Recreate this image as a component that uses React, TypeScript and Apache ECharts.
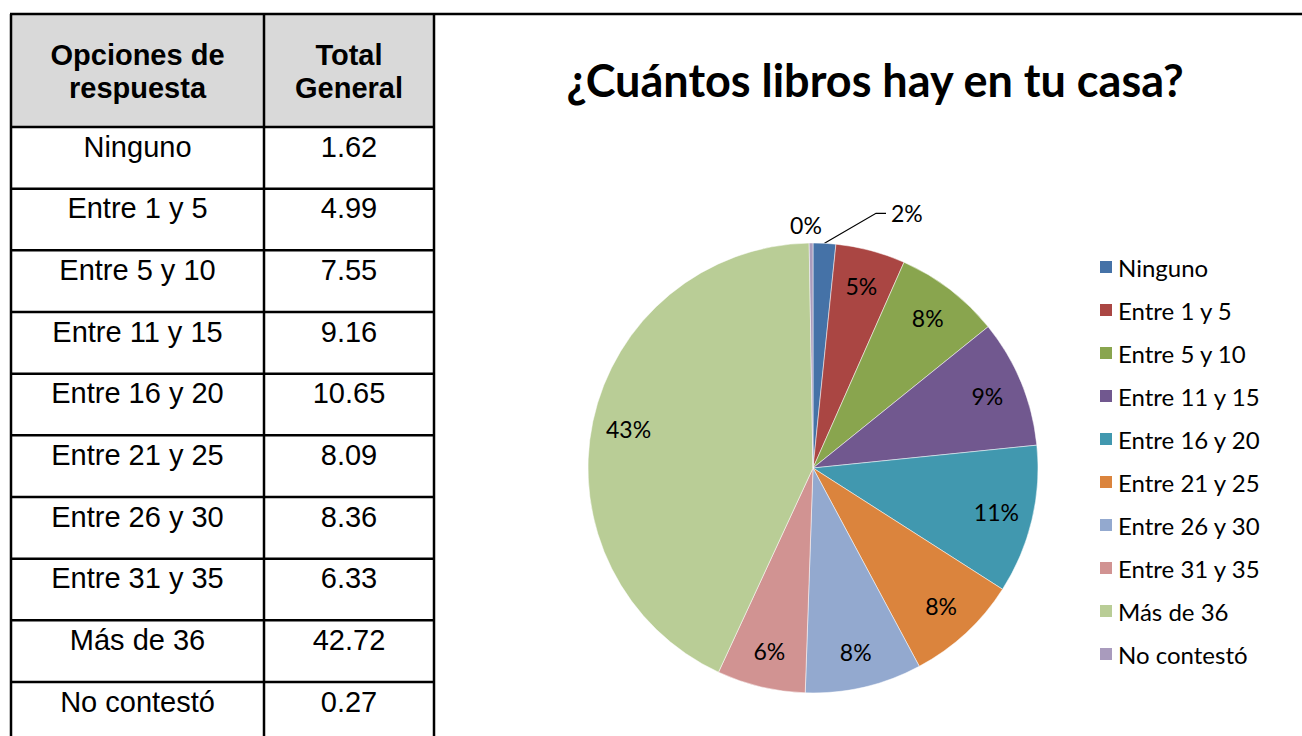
import React, { useEffect, useRef } from "react";
import * as echarts from "echarts";

const categories = [
  "Ninguno",
  "Entre 1 y 5",
  "Entre 5 y 10",
  "Entre 11 y 15",
  "Entre 16 y 20",
  "Entre 21 y 25",
  "Entre 26 y 30",
  "Entre 31 y 35",
  "Más de 36",
  "No contestó",
];
const totals = [1.62, 4.99, 7.55, 9.16, 10.65, 8.09, 8.36, 6.33, 42.72, 0.27];
const headerLabels = ["Opciones de\nrespuesta", "Total\nGeneral"];
const chartTitle = "¿Cuántos libros hay en tu casa?";
const colors = [
  "#4572A7",
  "#AA4643",
  "#89A54E",
  "#71588F",
  "#4198AF",
  "#DB843D",
  "#93A9CF",
  "#D19392",
  "#B9CD96",
  "#A99BBD",
];

const CHART_FONT = "Lato";
const TABLE_FONT = '"Liberation Sans", Arial, sans-serif';

function buildTable() {
  const left = 11;
  const mid = 264;
  const right = 434;
  const top = 14;
  const headerBottom = 127;
  const rowH = 61.67;
  const bottom = 740;
  const els: any[] = [];
  els.push({
    type: "rect",
    shape: { x: left, y: top, width: right - left, height: headerBottom - top },
    style: { fill: "#d9d9d9" },
  });
  const line = (x1: number, y1: number, x2: number, y2: number) => ({
    type: "line",
    shape: { x1, y1, x2, y2 },
    style: { stroke: "#000", lineWidth: 2.5 },
  });
  els.push(line(left - 1, top, 1302, top));
  els.push(line(left, top, left, bottom));
  els.push(line(mid, top, mid, bottom));
  els.push(line(right, top, right, bottom));
  els.push(line(left, headerBottom, right, headerBottom));
  categories.forEach((_, i) => {
    const y = headerBottom + rowH * (i + 1);
    if (y < 736) els.push(line(left, y, right, y));
  });
  [(left + mid) / 2, (mid + right) / 2].forEach((cx, j) => {
    els.push({
      type: "text",
      x: cx,
      y: 71,
      style: {
        text: headerLabels[j],
        font: `bold 29px ${TABLE_FONT}`,
        lineHeight: 33,
        textAlign: "center",
        textVerticalAlign: "middle",
        fill: "#000",
      },
    });
  });
  categories.forEach((name, i) => {
    const cy = headerBottom + rowH * i + 19.5;
    els.push({
      type: "text",
      x: (left + mid) / 2,
      y: cy,
      style: {
        text: name,
        font: `29px ${TABLE_FONT}`,
        textAlign: "center",
        textVerticalAlign: "middle",
        fill: "#000",
      },
    });
    els.push({
      type: "text",
      x: (mid + right) / 2,
      y: cy,
      style: {
        text: totals[i].toFixed(2),
        font: `29px ${TABLE_FONT}`,
        textAlign: "center",
        textVerticalAlign: "middle",
        fill: "#000",
      },
    });
  });
  els.push({
    type: "text",
    x: 875,
    y: 80,
    style: {
      text: chartTitle,
      font: `bold 45px ${CHART_FONT}`,
      textAlign: "center",
      textVerticalAlign: "middle",
      fill: "#000",
    },
  });
  return els;
}

export default function App() {
  const ref = useRef<HTMLDivElement>(null);
  useEffect(() => {
    if (!ref.current) return;
    const chart = echarts.init(ref.current, undefined, { renderer: "svg" });
    const sum = totals.reduce((a, b) => a + b, 0);
    const share = (v: number) => (v / sum) * 100;
    const smallIdx = totals.map((v, i) => (share(v) < 3 ? i : -1)).filter((i) => i >= 0);
    const tinyIdx = totals.map((v, i) => (share(v) < 1 ? i : -1)).filter((i) => i >= 0);
    const center = [813, 468];
    const R = 225;

    const option: any = {
      animation: false,
      backgroundColor: "#fff",
      graphic: { elements: buildTable() },
      legend: {
        orient: "vertical",
        left: 1098,
        top: 255,
        padding: 0,
        itemWidth: 14,
        itemHeight: 14,
        itemGap: 19,
        icon: "rect",
        selectedMode: false,
        textStyle: { fontFamily: CHART_FONT, fontSize: 24, lineHeight: 24, color: "#000" },
        data: categories,
      },
      series: [
        {
          type: "pie",
          center,
          radius: R,
          startAngle: 90,
          clockwise: true,
          avoidLabelOverlap: false,
          percentPrecision: 0,
          emphasis: { disabled: true },
          itemStyle: { borderColor: "#fff", borderWidth: 0.5 },
          label: {
            position: "outside",
            formatter: "{d}%",
            fontFamily: CHART_FONT,
            fontSize: 23,
            color: "#000",
          },
          labelLine: {
            length: 30,
            length2: 60,
            lineStyle: { color: "#000", width: 1.2 },
          },
          labelLayout: (params: any) => {
            if (tinyIdx.includes(params.dataIndex)) {
              return { align: "center", dx: 0 };
            }
            if (smallIdx.includes(params.dataIndex) && params.labelLinePoints) {
              const p = params.labelLinePoints;
              return {
                labelLinePoints: [p[0], [p[2][0] - 10, p[2][1]], p[2]],
              };
            }
            return {};
          },
          data: categories.map((name, i) => {
            const small = smallIdx.includes(i);
            const tiny = tinyIdx.includes(i);
            return {
              name,
              value: totals[i],
              itemStyle: { color: colors[i] },
              label: { show: small },
              labelLine: tiny
                ? { show: false, length: 18, length2: 0 }
                : { show: small },
            };
          }),
        },
        {
          type: "pie",
          center,
          radius: [146, R],
          startAngle: 90,
          clockwise: true,
          silent: true,
          avoidLabelOverlap: false,
          percentPrecision: 0,
          emphasis: { disabled: true },
          itemStyle: { color: "rgba(0,0,0,0)" },
          label: {
            position: "inside",
            formatter: "{d}%",
            fontFamily: CHART_FONT,
            fontSize: 23,
            color: "#000",
          },
          labelLine: { show: false },
          data: categories.map((name, i) => ({
            name,
            value: totals[i],
            label: { show: !smallIdx.includes(i) },
          })),
        },
      ],
    };
    chart.setOption(option);
    return () => chart.dispose();
  }, []);
  return (
    <div
      ref={ref}
      style={{ position: "fixed", left: 0, top: 0, width: 1302, height: 736, background: "#fff" }}
    />
  );
}
